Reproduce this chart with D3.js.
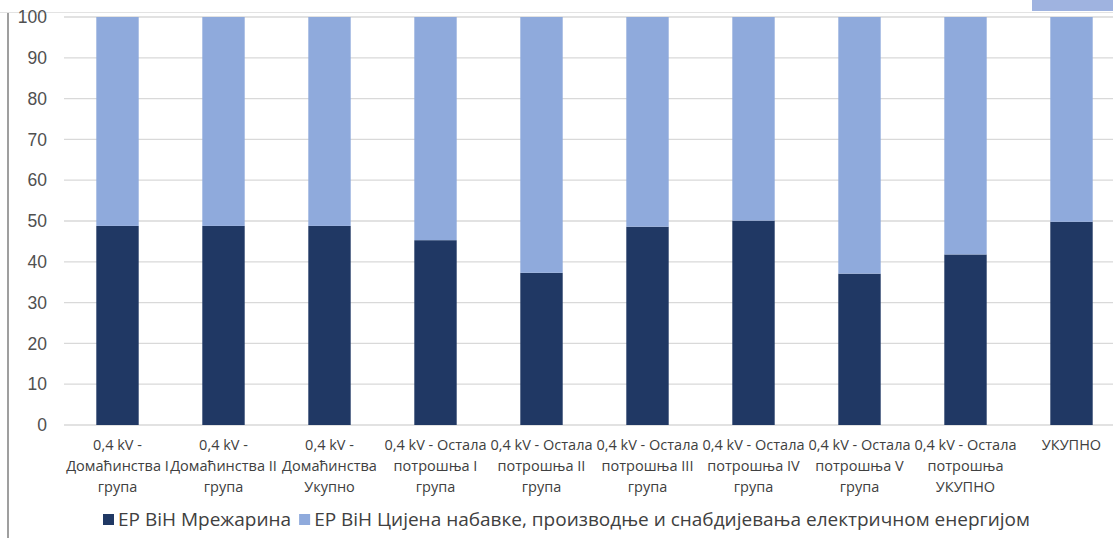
<!DOCTYPE html>
<html>
<head>
<meta charset="utf-8">
<script src="https://cdn.jsdelivr.net/npm/d3@7"></script>
<style>
  body { margin: 0; background: #fff; }
  svg { display: block; font-family: "Open Sans", "Noto Sans", sans-serif; }
</style>
</head>
<body>
<div id="chart"></div>
<script>
const categories = [
  "0,4 kV -\nДомаћинства I\nгрупа",
  "0,4 kV -\nДомаћинства II\nгрупа",
  "0,4 kV -\nДомаћинства\nУкупно",
  "0,4 kV - Остала\nпотрошња I\nгрупа",
  "0,4 kV - Остала\nпотрошња II\nгрупа",
  "0,4 kV - Остала\nпотрошња III\nгрупа",
  "0,4 kV - Остала\nпотрошња IV\nгрупа",
  "0,4 kV - Остала\nпотрошња V\nгрупа",
  "0,4 kV - Остала\nпотрошња\nУКУПНО",
  "УКУПНО"
]
const seriesNames = ["ЕР ВіН Мрежарина", "ЕР ВіН Цијена набавке, производње и снабдијевања електричном енергијом"]
const network = [48.8, 48.8, 48.8, 45.3, 37.3, 48.6, 50.1, 37.1, 41.8, 49.8]
const supply = network.map(v => 100 - v)
const yTicks = [0, 10, 20, 30, 40, 50, 60, 70, 80, 90, 100]
const colors = ["#203864", "#8faadc"]

const width = 1113
const height = 538

const svg = d3.select("#chart").append("svg")
    .attr("width", width)
    .attr("height", height)

// frame bits from the screenshot
svg.append("line")
    .attr("x1", 8).attr("x2", 8).attr("y1", 12).attr("y2", height)
    .attr("stroke", "#7f7f7f").attr("stroke-width", 1.5)
svg.append("line")
    .attr("x1", 0).attr("x2", width).attr("y1", 12.5).attr("y2", 12.5)
    .attr("stroke", "#e3e3e3").attr("stroke-width", 1)
svg.append("rect")
    .attr("x", 1032).attr("y", 0).attr("width", 81).attr("height", 11)
    .attr("fill", "#9fb3e0")

const x = d3.scaleBand()
    .domain(categories)
    .range([64.5, 1124.5])
    .paddingInner(0.6)
    .paddingOuter(0.3)

const y = d3.scaleLinear()
    .domain([0, 100])
    .range([425, 17])

// gridlines
svg.append("g")
    .selectAll("line")
    .data(yTicks)
    .enter()
    .append("line")
    .attr("x1", 64).attr("x2", width)
    .attr("y1", d => y(d)).attr("y2", d => y(d))
    .attr("stroke", "#d9d9d9")
    .attr("stroke-width", 1.3)

const yAxis = svg.append("g")
    .attr("transform", "translate(47,0)")
    .call(d3.axisLeft(y).tickValues(yTicks).tickSize(0).tickPadding(0))
yAxis.select(".domain").remove()
yAxis.selectAll("text")
    .attr("fill", "#505050")
    .style("font-size", "17.5px")

const stackData = categories.map((c, i) => ({ cat: c, a: network[i], b: supply[i] }))
const stacked = d3.stack().keys(["a", "b"])(stackData)

svg.append("g")
    .selectAll("g")
    .data(stacked)
    .enter()
    .append("g")
    .attr("fill", (d, i) => colors[i])
    .selectAll("rect")
    .data(d => d)
    .enter()
    .append("rect")
    .attr("x", d => x(d.data.cat))
    .attr("width", x.bandwidth())
    .attr("y", d => y(d[1]))
    .attr("height", d => y(d[0]) - y(d[1]))

// category labels
const xLabels = svg.append("g")
    .selectAll("text")
    .data(categories)
    .enter()
    .append("text")
    .attr("text-anchor", "middle")
    .attr("fill", "#404040")
    .style("font-size", "14.5px")

xLabels.each(function(d) {
    const t = d3.select(this)
    d.split("\n").forEach((line, i) => {
        t.append("tspan")
            .attr("x", x(d) + x.bandwidth() / 2)
            .attr("y", 450 + i * 21)
            .text(line)
    })
})

// legend
const legend = svg.append("g").attr("transform", "translate(103,526)")
let offset = 0
seriesNames.forEach((name, i) => {
    const item = legend.append("g").attr("transform", `translate(${offset},0)`)
    item.append("rect")
        .attr("x", 0).attr("y", -12)
        .attr("width", 11).attr("height", 11)
        .attr("fill", colors[i])
    const txt = item.append("text")
        .attr("x", 15).attr("y", 0)
        .attr("fill", "#404040")
        .style("font-size", "19px")
        .text(name)
    offset += 15 + txt.node().getComputedTextLength() + 8
})
</script>
</body>
</html>
